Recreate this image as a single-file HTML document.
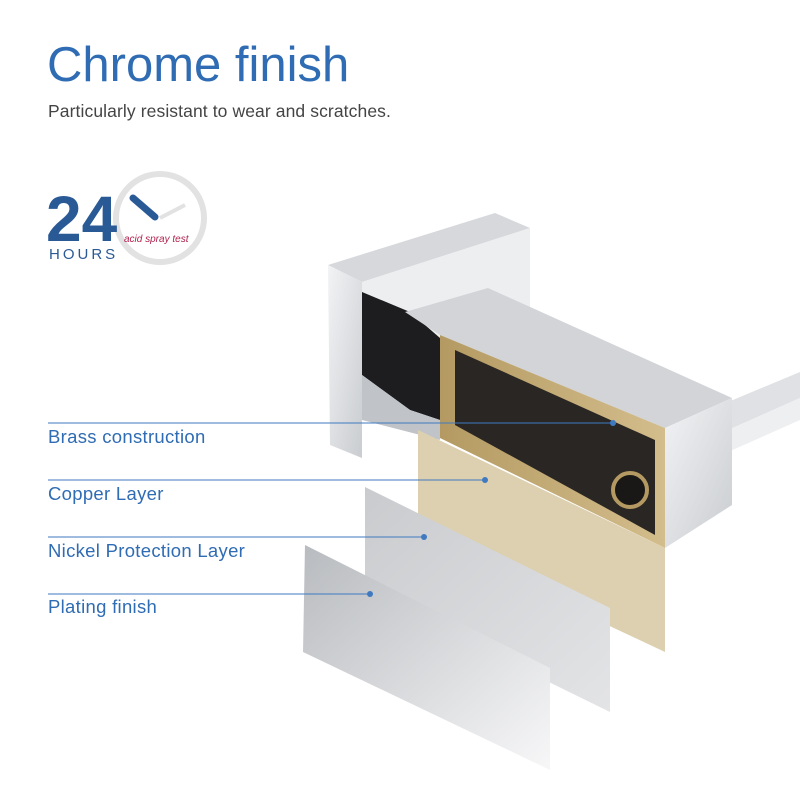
<!DOCTYPE html>
<html><head><meta charset="utf-8"><style>
body{margin:0;width:800px;height:800px;background:#fff;position:relative;overflow:hidden;font-family:"Liberation Sans",sans-serif}
.t{position:absolute;left:47px;top:37px;font-size:49px;color:#2f6cb3;letter-spacing:0px}
.s{position:absolute;left:48px;top:101px;font-size:17.5px;color:#444;letter-spacing:0.1px}
.l{position:absolute;left:48px;font-size:18.5px;color:#2f6cb3;letter-spacing:0.3px}
</style></head><body>
<div class="t">Chrome finish</div>
<div class="s">Particularly resistant to wear and scratches.</div>
<svg width="800" height="800" style="position:absolute;left:0;top:0">
<defs>
<linearGradient id="ch" x1="0" y1="0" x2="1" y2="1"><stop offset="0" stop-color="#f2f3f5"/><stop offset="1" stop-color="#c9ccd0"/></linearGradient>
<linearGradient id="pl" x1="0" y1="0" x2="1" y2="1"><stop offset="0" stop-color="#b8bbbf"/><stop offset="1" stop-color="#f7f7f8"/></linearGradient>
<linearGradient id="ni" x1="0" y1="0" x2="1" y2="1"><stop offset="0" stop-color="#c9cbce"/><stop offset="1" stop-color="#e3e4e6"/></linearGradient>
<linearGradient id="br" x1="0" y1="0" x2="1" y2="0"><stop offset="0" stop-color="#b49a62"/><stop offset="1" stop-color="#d3bd8c"/></linearGradient>
</defs>
<circle cx="160" cy="218" r="44" fill="none" stroke="#e2e2e2" stroke-width="6"/>
<line x1="133" y1="198" x2="155" y2="217" stroke="#2a5a96" stroke-width="7" stroke-linecap="round"/>
<line x1="160" y1="218" x2="185" y2="205" stroke="#e2e2e2" stroke-width="4"/>
<text x="46" y="241" font-size="64" font-weight="bold" fill="#2a5a96" font-family="Liberation Sans">24</text>
<text x="49" y="259" font-size="15" fill="#2a5a96" letter-spacing="3" font-family="Liberation Sans">HOURS</text>
<text x="124" y="242" font-size="10" font-style="italic" fill="#b0234f" font-family="Liberation Sans">acid spray test</text>
<polygon points="728,402 800,372 800,398 728,430" fill="#dfe1e4"/>
<polygon points="728,430 800,398 800,420 728,452" fill="#eeeff1"/>
<polygon points="328,265 495,213 530,228 362,282" fill="#d6d8db"/>
<polygon points="328,265 362,282 362,458 330,445" fill="url(#ch)"/>
<polygon points="362,282 530,228 530,330 362,380" fill="#eceef0"/>
<polygon points="362,292 410,312 440,338 440,420 410,410 362,375" fill="#1d1d1f"/>
<polygon points="362,375 410,410 440,420 440,440 362,420" fill="#c0c3c7"/>
<polygon points="405,312 488,288 732,398 665,428 440,335" fill="#d2d4d8"/>
<polygon points="440,335 665,428 665,548 440,438" fill="url(#br)"/>
<polygon points="455,350 655,440 655,535 455,425" fill="#2a2623"/>
<circle cx="630" cy="490" r="17" fill="#1a1817" stroke="#b49a62" stroke-width="4"/>
<polygon points="665,428 732,398 732,505 665,548" fill="url(#ch)"/>
<polygon points="418,430 665,548 665,652 418,536" fill="#ddd0b0"/>
<polygon points="365,487 610,608 610,712 365,592" fill="url(#ni)"/>
<polygon points="305,545 550,668 550,770 303,652" fill="url(#pl)"/>
<g stroke="#3f7ac0" stroke-width="1">
<line x1="48" y1="423" x2="613" y2="423"/><line x1="48" y1="480" x2="485" y2="480"/>
<line x1="48" y1="537" x2="424" y2="537"/><line x1="48" y1="594" x2="370" y2="594"/>
</g>
<g fill="#3f7ac0"><circle cx="613" cy="423" r="3"/><circle cx="485" cy="480" r="3"/><circle cx="424" cy="537" r="3"/><circle cx="370" cy="594" r="3"/></g>
</svg>
<div class="l" style="top:426px">Brass construction</div>
<div class="l" style="top:483px">Copper Layer</div>
<div class="l" style="top:540px">Nickel Protection Layer</div>
<div class="l" style="top:596px">Plating finish</div>
</body></html>
